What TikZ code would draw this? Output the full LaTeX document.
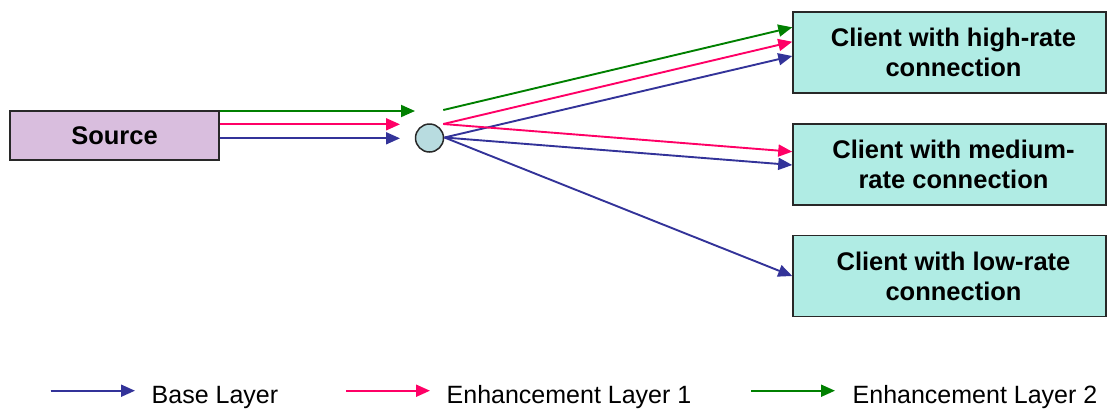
\documentclass[tikz,border=0pt]{standalone}
\usepackage{fontspec}
\setmainfont{Liberation Sans}
\usetikzlibrary{arrows.meta}

\definecolor{baseblue}{RGB}{51,51,153}
\definecolor{enhpink}{RGB}{255,0,102}
\definecolor{enhgreen}{RGB}{0,128,0}
\definecolor{srcfill}{RGB}{217,190,222}
\definecolor{clientfill}{RGB}{176,236,228}
\definecolor{hubfill}{RGB}{184,220,224}
\definecolor{edge}{RGB}{40,40,40}

\begin{document}
\begin{tikzpicture}[x=1pt,y=-1pt,
  flow/.style={line width=1.9pt,-{Triangle[length=14pt,width=12pt]}},
  baseflow/.style={flow,draw=baseblue,fill=baseblue},
  pinkflow/.style={flow,draw=enhpink,fill=enhpink},
  greenflow/.style={flow,draw=enhgreen,fill=enhgreen},
  box/.style={draw=edge,line width=1.5pt,inner sep=0pt,align=center,
    font=\fontsize{25.5}{30}\selectfont\bfseries},
  srcbox/.style={box,fill=srcfill,minimum width=209pt,minimum height=49pt},
  clientbox/.style={box,fill=clientfill,minimum width=313pt,minimum height=81pt},
  hub/.style={circle,draw=edge,line width=1.5pt,fill=hubfill,minimum size=28pt,inner sep=0pt},
  legendtext/.style={anchor=base west,inner sep=0pt,font=\fontsize{25}{30}\selectfont}
]
\useasboundingbox (0,0) rectangle (1107,408);

% boxes and the distribution point
\node[srcbox] (src) at (114.5,135.5) {Source};
\node[hub] (hubnode) at (429.5,138) {};
\node[clientbox] (hi)  at (949.5,52.5) {\hspace*{8pt}Client with high-rate\\\hspace*{8pt}connection};
\node[clientbox] (med) at (949.5,164.5) {\hspace*{8pt}Client with medium-\\\hspace*{8pt}rate connection};
\node[clientbox] (low) at (949.5,276) {\hspace*{8pt}Client with low-rate\\\hspace*{8pt}connection};

% layer streams arriving at the distribution point
\coordinate (g-in) at (415,111);
\coordinate (p-in) at (400,124.3);
\coordinate (b-in) at (400,138.3);
\draw[greenflow] (src.east |- g-in) -- (g-in);
\draw[pinkflow]  (src.east |- p-in) -- (p-in);
\draw[baseflow]  (src.east |- b-in) -- (b-in);

% layer streams leaving towards the clients
\coordinate (g-out) at (443.3,110);
\coordinate (p-out) at (443.3,124);
\coordinate (b-out) at (444.5,137.5);
\draw[greenflow] (g-out) -- ([yshift=25.2pt]hi.west);
\draw[pinkflow]  (p-out) -- ([yshift=10.8pt]hi.west);
\draw[baseflow]  (b-out) -- ([yshift=-3.5pt]hi.west);
\draw[pinkflow]  (p-out) -- ([yshift=12.8pt]med.west);
\draw[baseflow]  (b-out) -- ([yshift=-0.5pt]med.west);
\draw[baseflow]  (b-out) -- (low.west);

% legend
\coordinate (lb1) at (50.7,390.7);  \coordinate (lb2) at (135,390.7);
\coordinate (lp1) at (346,390.7);   \coordinate (lp2) at (430,390.7);
\coordinate (lg1) at (751,390.7);   \coordinate (lg2) at (835,390.7);
\draw[baseflow]  (lb1) -- (lb2);
\draw[pinkflow]  (lp1) -- (lp2);
\draw[greenflow] (lg1) -- (lg2);
\node[legendtext] (lbt) at (151.5,403) {Base Layer};
\node[legendtext] (lpt) at (446.5,403) {Enhancement Layer 1};
\node[legendtext] (lgt) at (852.5,403) {Enhancement Layer 2};
\end{tikzpicture}
\end{document}
